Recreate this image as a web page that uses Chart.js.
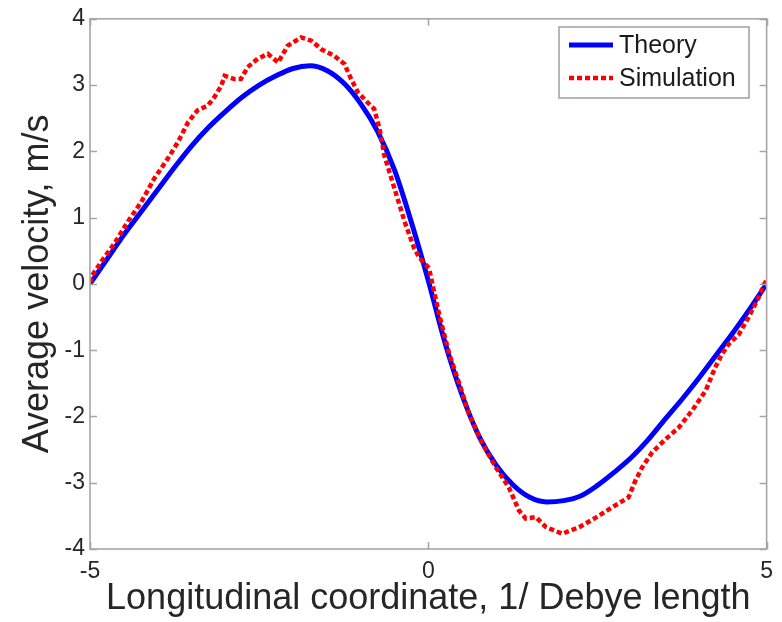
<!DOCTYPE html>
<html>
<head>
<meta charset="utf-8">
<script src="https://cdn.jsdelivr.net/npm/chart.js@4/dist/chart.umd.min.js"></script>
<style>
  html, body { margin: 0; padding: 0; background: #ffffff; }
  #wrap { width: 782px; height: 622px; }
</style>
</head>
<body>
<div id="wrap"><canvas id="c" width="782" height="622"></canvas></div>
<script>
// ---- Data ----
const seriesNames = ["Theory", "Simulation"];

const theoryX = [-5, -4.75, -4.5, -4.25, -4, -3.75, -3.5, -3.25, -3, -2.75, -2.5, -2.25, -2, -1.75,
  -1.5, -1.25, -1, -0.75, -0.5, -0.25, 0, 0.25, 0.5, 0.75, 1, 1.25, 1.5, 1.75, 2, 2.25, 2.5,
  2.75, 3, 3.25, 3.5, 3.75, 4, 4.25, 4.5, 4.75, 5];
const theoryY = [0, 0.37, 0.74, 1.08, 1.42, 1.76, 2.08, 2.36, 2.6, 2.82, 3.0, 3.14, 3.25, 3.29,
  3.22, 3.03, 2.72, 2.3, 1.72, 0.93, 0.05, -0.9, -1.68, -2.3, -2.73, -3.03, -3.22, -3.29, -3.27, -3.2, -3.04,
  -2.84, -2.62, -2.35, -2.04, -1.74, -1.42, -1.08, -0.74, -0.38, 0];

const simX = [-5.0, -4.96, -4.83, -4.64, -4.44, -4.24, -4.05, -3.85, -3.70, -3.55, -3.41, -3.26, -3.16,
  -3.06, -3.01, -2.87, -2.77, -2.67, -2.52, -2.37, -2.22, -2.08, -1.88, -1.73, -1.58, -1.39, -1.24,
  -1.14, -1.04, -0.90, -0.80, -0.72, -0.65, -0.50, -0.35, -0.21, -0.13, 0.01, 0.06, 0.16, 0.31, 0.46,
  0.60, 0.80, 1.00, 1.19, 1.34, 1.44, 1.59, 1.74, 1.98, 2.23, 2.47, 2.72, 2.96, 3.06, 3.16, 3.31, 3.51,
  3.70, 3.90, 4.10, 4.24, 4.34, 4.44, 4.59, 4.73, 4.88, 4.96, 5.0];
const simY = [0.02, 0.14, 0.34, 0.61, 0.94, 1.24, 1.59, 1.89, 2.14, 2.44, 2.62, 2.69, 2.82,
  2.99, 3.14, 3.09, 3.09, 3.27, 3.40, 3.47, 3.34, 3.59, 3.72, 3.67, 3.54, 3.44, 3.32,
  3.09, 2.89, 2.74, 2.64, 2.34, 1.94, 1.44, 0.94, 0.54, 0.39, 0.24, 0.0, -0.46, -1.06, -1.51,
  -1.96, -2.41, -2.77, -3.07, -3.42, -3.54, -3.52, -3.67, -3.77, -3.67, -3.53, -3.37, -3.22, -2.97, -2.77, -2.54, -2.34,
  -2.17, -1.91, -1.61, -1.26, -1.06, -0.91, -0.76, -0.51, -0.21, -0.01, 0.05];

const xTicks = [-5, 0, 5];
const yTicks = [-4, -3, -2, -1, 0, 1, 2, 3, 4];
const xTitle = "Longitudinal coordinate, 1/ Debye length";
const yTitle = "Average velocity, m/s";

// ---- Build datasets ----
const toPts = (xs, ys) => xs.map((x, i) => ({ x: x, y: ys[i] }));

const FONT = "'Liberation Sans', Arial, sans-serif";
const TXT = "#262626";
const BOX = "#a6a6a6";

const frame = {
  id: 'frame',
  afterDraw(chart) {
    const { ctx, chartArea: a, scales } = chart;
    ctx.save();
    ctx.strokeStyle = BOX;
    ctx.lineWidth = 1.6;
    ctx.strokeRect(a.left, a.top, a.right - a.left, a.bottom - a.top);
    const tl = 7;
    ctx.beginPath();
    yTicks.forEach(v => {
      const py = Math.round(scales.y.getPixelForValue(v)) + 0.5;
      ctx.moveTo(a.left, py); ctx.lineTo(a.left + tl, py);
      ctx.moveTo(a.right, py); ctx.lineTo(a.right - tl, py);
    });
    xTicks.forEach(v => {
      const px = Math.round(scales.x.getPixelForValue(v)) + 0.5;
      ctx.moveTo(px, a.bottom); ctx.lineTo(px, a.bottom - tl);
      ctx.moveTo(px, a.top); ctx.lineTo(px, a.top + tl);
    });
    ctx.stroke();

    // legend box
    const bx = 559, by = 27, bw = 190, bh = 71;
    ctx.fillStyle = '#ffffff';
    ctx.fillRect(bx, by, bw, bh);
    ctx.strokeStyle = BOX;
    ctx.lineWidth = 1.6;
    ctx.strokeRect(bx, by, bw, bh);
    const rows = [45, 78];
    chart.data.datasets.forEach((ds, i) => {
      const y = rows[i];
      ctx.save();
      ctx.strokeStyle = ds.borderColor;
      ctx.lineWidth = ds.borderWidth;
      ctx.setLineDash(ds.borderDash || []);
      ctx.beginPath();
      ctx.moveTo(569, y); ctx.lineTo(613, y);
      ctx.stroke();
      ctx.restore();
      ctx.fillStyle = '#1a1a1a';
      ctx.font = "25px " + FONT;
      ctx.textBaseline = 'middle';
      ctx.textAlign = 'left';
      ctx.fillText(ds.label, 619, y + 1);
    });
    ctx.restore();
  }
};

new Chart(document.getElementById('c'), {
  type: 'line',
  data: {
    datasets: [
      {
        label: seriesNames[0],
        data: toPts(theoryX, theoryY),
        borderColor: '#0000ff',
        borderWidth: 5,
        pointRadius: 0,
        fill: false,
        cubicInterpolationMode: 'monotone',
        order: 1
      },
      {
        label: seriesNames[1],
        data: toPts(simX, simY),
        borderColor: '#ff0000',
        borderWidth: 4.5,
        borderDash: [5, 3],
        pointRadius: 0,
        fill: false,
        tension: 0,
        order: 0
      }
    ]
  },
  options: {
    responsive: false,
    animation: false,
    events: [],
    layout: { padding: { top: 16, right: 14, left: 0, bottom: 0 } },
    plugins: { legend: { display: false }, tooltip: { enabled: false } },
    scales: {
      x: {
        type: 'linear',
        min: -5, max: 5,
        afterBuildTicks(s) { s.ticks = xTicks.map(v => ({ value: v })); },
        ticks: { font: { family: FONT, size: 23 }, color: TXT, padding: 9, maxRotation: 0, autoSkip: false },
        grid: { display: false, drawTicks: false, tickLength: 0 },
        border: { display: false },
        title: { display: true, text: xTitle, font: { family: FONT, size: 36 }, color: TXT, padding: { top: 0, bottom: 1 } },
        afterFit(s) { s.height = 73; }
      },
      y: {
        type: 'linear',
        min: -4, max: 4,
        afterBuildTicks(s) { s.ticks = yTicks.map(v => ({ value: v })); },
        ticks: { font: { family: FONT, size: 23 }, color: TXT, padding: 5, autoSkip: false },
        grid: { display: false, drawTicks: false, tickLength: 0 },
        border: { display: false },
        title: { display: true, text: yTitle, font: { family: FONT, size: 36 }, color: TXT, padding: { top: 16, bottom: 0 } },
        afterFit(s) { s.width = 90; }
      }
    }
  },
  plugins: [frame]
});
</script>
</body>
</html>
